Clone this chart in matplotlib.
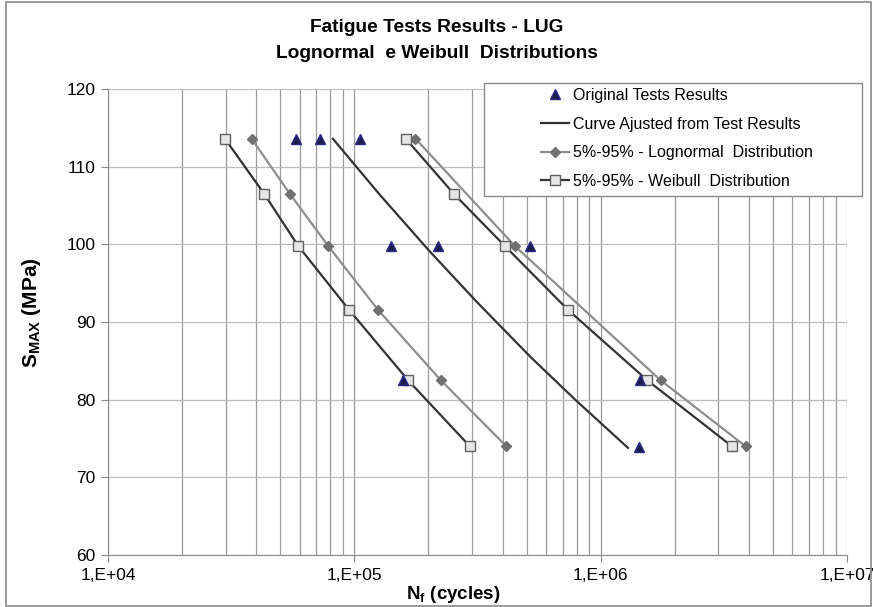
import numpy as np
import matplotlib.pyplot as plt
from matplotlib.ticker import LogLocator, FixedLocator, FuncFormatter, NullFormatter
from matplotlib.patches import Rectangle

plt.rcParams['font.family'] = ['Liberation Sans', 'DejaVu Sans']
plt.rcParams['mathtext.fontset'] = 'custom'
plt.rcParams['mathtext.rm'] = 'Liberation Sans'
plt.rcParams['mathtext.bf'] = 'Liberation Sans:bold'

# original tests
test_n = [57700, 72400, 105200, 141500, 218700, 515000, 157800, 1439000, 1430000]
test_s = [113.6, 113.6, 113.6, 99.8, 99.8, 99.8, 82.5, 82.5, 73.9]

# curve adjusted from test results
fit_n = [81800, 125960, 199600, 313800, 519100, 788000, 1290000]
fit_s = [113.6, 106.5, 99.3, 92.6, 85.5, 80.0, 73.8]

# 5% / 95% lognormal
logn_lo_n = [38280, 54750, 78270, 124500, 224400, 414000]
logn_lo_s = [113.6, 106.5, 99.8, 91.6, 82.5, 74.0]
logn_hi_n = [177100, 447800, 1751000, 3873000]
logn_hi_s = [113.6, 99.8, 82.5, 74.0]

# 5% / 95% weibull
weib_lo_n = [29840, 43060, 59160, 95000, 165300, 294200]
weib_lo_s = [113.6, 106.5, 99.8, 91.6, 82.5, 74.0]
weib_hi_n = [161800, 253400, 408000, 734800, 1546000, 3410000]
weib_hi_s = [113.6, 106.5, 99.8, 91.6, 82.5, 74.0]

fig = plt.figure(figsize=(8.73, 6.07), dpi=100)
fig.patches.append(Rectangle((6/873, 1/607), 865/873, 604/607, transform=fig.transFigure,
                             fill=False, edgecolor='#8a8a8a', lw=1.2))
ax = fig.add_axes([108/873, 1 - 555/607, 739/873, 466/607])

ax.plot(test_n, test_s, ls='none', marker='^', ms=7.5, color='#1c1c4e', mec='#2a2a8a',
        label='Original Tests Results', zorder=5)
ax.plot(fit_n, fit_s, color='#333333', lw=1.6, label='Curve Ajusted from Test Results', zorder=3)
ax.plot(logn_lo_n, logn_lo_s, color='#8e8e8e', lw=1.6, marker='D', ms=5, mfc='#707070',
        mec='#707070', label='5%-95% - Lognormal  Distribution', zorder=3)
ax.plot(logn_hi_n, logn_hi_s, color='#8e8e8e', lw=1.6, marker='D', ms=5, mfc='#707070',
        mec='#707070', zorder=3)
ax.plot(weib_lo_n, weib_lo_s, color='#333333', lw=1.6, marker='s', ms=7.5, mfc='#e6e6e6',
        mec='#606060', label='5%-95% - Weibull  Distribution', zorder=4)
ax.plot(weib_hi_n, weib_hi_s, color='#333333', lw=1.6, marker='s', ms=7.5, mfc='#e6e6e6',
        mec='#606060', zorder=4)

ax.set_xscale('log')
ax.set_xlim(1e4, 1e7)
ax.set_ylim(60, 120)
ax.set_yticks(np.arange(60, 121, 10))
ax.xaxis.set_major_locator(FixedLocator([1e4, 1e5, 1e6, 1e7]))
ax.xaxis.set_minor_locator(LogLocator(base=10, subs=np.arange(2, 10)))
ax.xaxis.set_minor_formatter(NullFormatter())
ax.xaxis.set_major_formatter(FuncFormatter(lambda v, p: '1,E+%02d' % int(round(np.log10(v)))))

ax.grid(which='both', axis='x', color='#9a9a9a', lw=0.9)
ax.grid(which='major', axis='y', color='#bdbdbd', lw=0.9)
ax.set_axisbelow(True)
for s in ['top', 'right']:
    ax.spines[s].set_visible(False)
for s in ['left', 'bottom']:
    ax.spines[s].set_color('#8a8a8a')
ax.tick_params(which='major', length=5, color='#8a8a8a', labelsize=12.5, pad=4)
ax.tick_params(which='minor', length=0)

ax.set_xlabel(r'$\mathbf{N_f}$ (cycles)', fontsize=13.5, fontweight='bold')
ax.set_ylabel(r'$\mathbf{S_{MAX}}$ (MPa)', fontsize=15, fontweight='bold')
ax.xaxis.set_label_coords(0.467, -0.062)
ax.yaxis.set_label_coords(-0.088, 0.52)

fig.text(0.5, 1 - 27/607, 'Fatigue Tests Results - LUG', ha='center', va='center',
         fontsize=13.8, fontweight='bold')
fig.text(0.5, 1 - 53/607, 'Lognormal  e Weibull  Distributions', ha='center', va='center',
         fontsize=13.8, fontweight='bold')

# legend box, wider than its content
box = Rectangle((484/873, 1 - 196/607), 378/873, 113/607, transform=fig.transFigure,
                facecolor='white', edgecolor='#8a8a8a', lw=1.0, zorder=6, clip_on=False)
ax.add_patch(box)
leg = ax.legend(loc='upper left', bbox_to_anchor=(541/873, 1 - 88/607), bbox_transform=fig.transFigure,
                frameon=False, fontsize=11.5, handlelength=1.75, handletextpad=0.25,
                labelspacing=0.85, borderpad=0, borderaxespad=0)
leg.set_zorder(7)

fig.savefig('out.png', dpi=100)
